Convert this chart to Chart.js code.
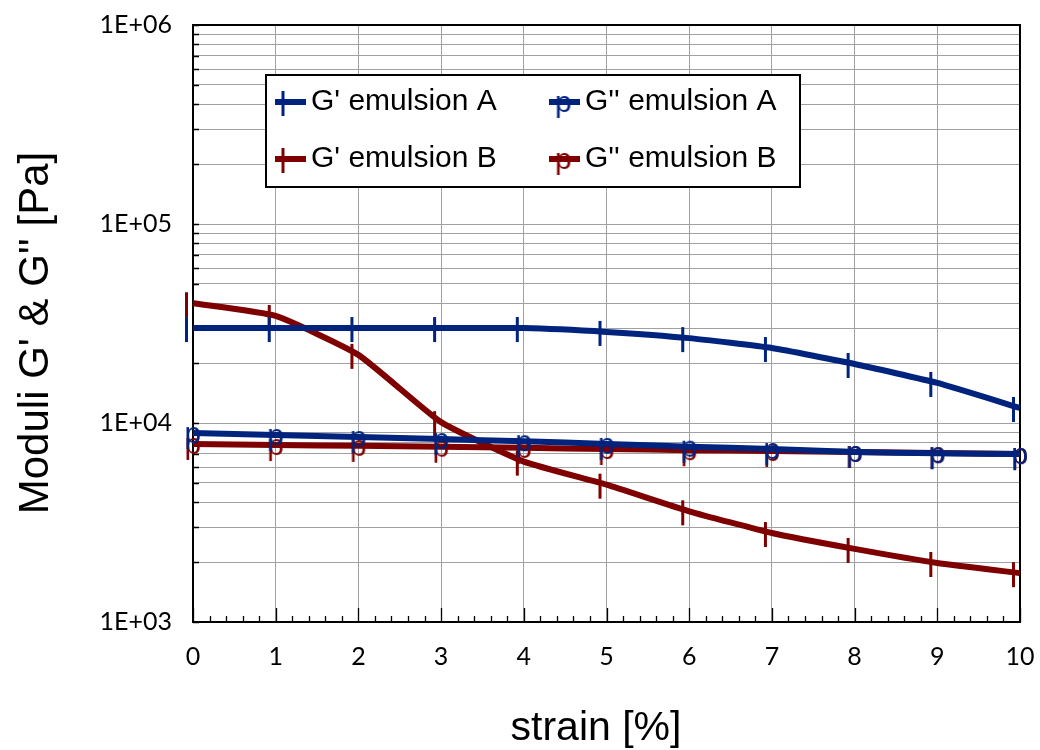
<!DOCTYPE html>
<html><head><meta charset="utf-8">
<script src="https://cdn.jsdelivr.net/npm/chart.js@4"></script>
<style>html,body{margin:0;padding:0;background:#fff}</style>
</head><body>
<canvas id="c" width="1040" height="750" style="width:1040px;height:750px;display:block"></canvas>
<script>
// ---- data ----
const strain = [0,1,2,3,4,5,6,7,8,9,10];
const gPrimeA  = [30000,30000,30000,30000,30000,28700,26700,23800,19800,15900,11900];
const gDoubleA = [8900,8700,8500,8300,8100,7850,7600,7400,7150,7050,6980];
const gPrimeB  = [40000,34500,22000,10100,6400,4900,3600,2800,2330,1980,1760];
const gDoubleB = [7850,7750,7680,7600,7500,7400,7300,7230,7150,7060,6980];
const seriesLabels = ["G' emulsion A", "G'' emulsion A", "G' emulsion B", "G'' emulsion B"];
const yTickLabels = {1000:'1E+03', 10000:'1E+04', 100000:'1E+05', 1000000:'1E+06'};
const xTitle = 'strain [%]';
const yTitle = "Moduli G' & G'' [Pa]";

const BLUE = '#00237E', RED = '#7F0000';

function plusMarker(color){
  const c = document.createElement('canvas'); c.width = 40; c.height = 44;
  const g = c.getContext('2d');
  g.strokeStyle = color; g.lineWidth = 3;
  g.beginPath(); g.moveTo(13.5, 22-11); g.lineTo(13.5, 22+14); g.stroke();
  return c;
}
function pMarker(color){
  const c = document.createElement('canvas'); c.width = 40; c.height = 50;
  const g = c.getContext('2d');
  g.fillStyle = color; g.font = '30px "Liberation Sans", Arial, sans-serif';
  g.textBaseline = 'alphabetic'; g.textAlign = 'left';
  g.fillText('p', 20-8.5, 25+9.5);
  return c;
}

function ds(label, data, color, marker){
  return {
    label, data: strain.map((s,i)=>({x:s, y:data[i]})),
    borderColor: color, backgroundColor: color, borderWidth: 6,
    pointStyle: marker, pointRadius: 5, pointHoverRadius: 5,
    tension: 0.15, clip: false, fill: false
  };
}

const framePlugin = {
  id: 'frame',
  beforeDatasetsDraw(chart){
    const {ctx, chartArea: a, scales: {x, y}} = chart;
    ctx.save();
    ctx.strokeStyle = '#000'; ctx.lineWidth = 1.3;
    ctx.beginPath();
    for (let i = 0; i <= 50; i++){
      const px = Math.round(x.getPixelForValue(i/5)) + 0.5;
      const len = (i % 5 === 0) ? 14 : 6;
      ctx.moveTo(px, a.bottom); ctx.lineTo(px, a.bottom - len);
    }
    y.ticks.forEach(t => {
      const py = Math.round(y.getPixelForValue(t.value)) + 0.5;
      ctx.moveTo(a.left, py); ctx.lineTo(a.left + 6, py);
    });
    ctx.stroke();
    ctx.lineWidth = 2;
    ctx.strokeRect(a.left, a.top, a.right - a.left, a.bottom - a.top);
    ctx.restore();
  },
  afterDraw(chart){
    const ctx = chart.ctx;
    ctx.save();
    ctx.fillStyle = '#000';
    ctx.font = '41px "Liberation Sans", Arial, sans-serif';
    ctx.textAlign = 'center'; ctx.textBaseline = 'alphabetic';
    ctx.fillText(xTitle, 596, 740);
    ctx.font = '42px "Liberation Sans", Arial, sans-serif';
    ctx.translate(48, 333); ctx.rotate(-Math.PI / 2);
    ctx.fillText(yTitle, 0, 0);
    ctx.restore();
  }
};

const legendPlugin = {
  id: 'boxLegend',
  afterDraw(chart){
    const ctx = chart.ctx;
    const box = {l: 266, t: 75, r: 800, b: 187};
    ctx.save();
    ctx.fillStyle = '#fff'; ctx.fillRect(box.l, box.t, box.r-box.l, box.b-box.t);
    ctx.strokeStyle = '#000'; ctx.lineWidth = 2;
    ctx.strokeRect(box.l, box.t, box.r-box.l, box.b-box.t);
    const cols = [{s: 275, e: 306, tx: 311}, {s: 549, e: 580, tx: 585}];
    const rows = [102, 159];
    chart.data.datasets.forEach((d, i) => {
      const col = cols[i % 2], ry = rows[Math.floor(i / 2)];
      ctx.strokeStyle = d.borderColor; ctx.lineWidth = 6;
      ctx.beginPath(); ctx.moveTo(col.s, ry); ctx.lineTo(col.e, ry); ctx.stroke();
      const m = d.pointStyle; const cx = (col.s + col.e) / 2 - 1;
      ctx.drawImage(m, cx - m.width/2, ry - m.height/2);
      ctx.fillStyle = '#000';
      ctx.font = '30px "Liberation Sans", Arial, sans-serif';
      ctx.textBaseline = 'middle'; ctx.textAlign = 'left';
      ctx.fillText(d.label, col.tx, ry);
    });
    ctx.restore();
  }
};

new Chart(document.getElementById('c'), {
  type: 'line',
  data: {
    datasets: [
      ds(seriesLabels[0], gPrimeA, BLUE, plusMarker(BLUE)),
      ds(seriesLabels[1], gDoubleA, BLUE, pMarker(BLUE)),
      ds(seriesLabels[2], gPrimeB, RED, plusMarker(RED)),
      ds(seriesLabels[3], gDoubleB, RED, pMarker(RED))
    ]
  },
  options: {
    responsive: false, animation: false, devicePixelRatio: 1, events: [],
    layout: {padding: {left: 0, right: 20, top: 25, bottom: 0}, autoPadding: false},
    plugins: {legend: {display: false}, tooltip: {enabled: false}},
    scales: {
      x: {
        type: 'linear', min: 0, max: 10,
        afterFit(s){ s.height = 128; s.paddingLeft = 0; s.paddingRight = 0; },
        ticks: {stepSize: 1, color: '#000', padding: 20, font: {family: 'Lato', size: 25}},
        grid: {color: '#a0a0a0', lineWidth: 1, drawTicks: false},
        border: {display: true, color: '#000', width: 2},
        title: {display: false}
      },
      y: {
        type: 'logarithmic', min: 1000, max: 1000000,
        afterFit(s){ s.width = 193; s.paddingTop = 0; s.paddingBottom = 0; },
        afterBuildTicks(s){
          const t = [];
          for (let e = 3; e < 6; e++) for (let m = 1; m < 10; m++) t.push({value: m * Math.pow(10, e)});
          t.push({value: 1e6});
          s.ticks = t;
        },
        ticks: {
          autoSkip: false, color: '#000', padding: 21, font: {family: 'Lato', size: 25},
          callback(v){ return yTickLabels[Math.round(v)] || ''; }
        },
        grid: {color: '#a0a0a0', lineWidth: 1, drawTicks: false},
        border: {display: true, color: '#000', width: 2},
        title: {display: false}
      }
    }
  },
  plugins: [framePlugin, legendPlugin]
});
</script>
</body></html>
